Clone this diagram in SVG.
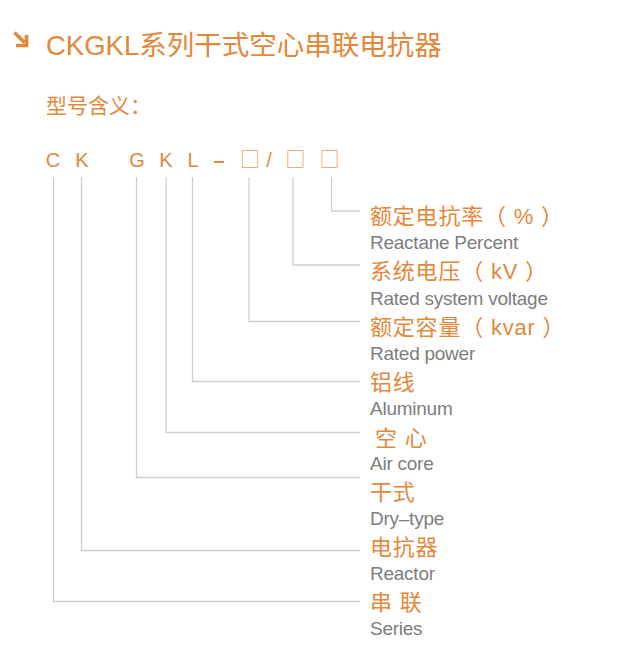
<svg xmlns="http://www.w3.org/2000/svg" width="633" height="668" viewBox="0 0 633 668">
<style>
.or{fill:#e2883b;font-family:"Liberation Sans","Noto Sans CJK SC",sans-serif}
.cn{font-size:22px;letter-spacing:0.8px}
.en{fill:#7d7d7d;font-family:"Liberation Sans",sans-serif;font-size:19px;letter-spacing:-0.25px}
.code{font-size:20px;text-anchor:middle}
.box{fill:#e8a064;font-family:"Noto Sans CJK SC",sans-serif;font-size:20px;text-anchor:middle}
.ln{fill:none;stroke:#cfcfcf;stroke-width:1.3}
</style>
<rect width="633" height="668" fill="#ffffff"/>
<g id="title">
<path d="M14.5,32.5 L24.5,42.5 M26.5,35 V45.5 H16" fill="none" stroke="#e2883b" stroke-width="3.6"/>
<text class="or" x="46" y="55" font-size="27.5">CKGKL系列干式空心串联电抗器</text>
</g>
<g id="subtitle"><text class="or" x="46" y="113" font-size="21">型号含义：</text></g>
<g id="code">
<text class="or code" x="53" y="167">C</text>
<text class="or code" x="82" y="167">K</text>
<text class="or code" x="137" y="167">G</text>
<text class="or code" x="166" y="167">K</text>
<text class="or code" x="193" y="167">L</text>
<text class="or code" x="219" y="167" font-weight="bold">–</text>
<text class="box" x="250" y="167">□</text>
<text class="or code" x="269" y="167">/</text>
<text class="box" x="295.5" y="167">□</text>
<text class="box" x="329.5" y="167">□</text>
</g>
<g id="connectors">
<path class="ln" d="M331.5,177 V211 H360"/>
<path class="ln" d="M293,177 V265 H360"/>
<path class="ln" d="M249,177 V321.5 H360"/>
<path class="ln" d="M192.5,177 V381.5 H360"/>
<path class="ln" d="M166,177 V432.5 H360"/>
<path class="ln" d="M136.5,177 V477.5 H360"/>
<path class="ln" d="M81.5,177 V550.5 H360"/>
<path class="ln" d="M53.5,177 V601.5 H360"/>
</g>
<g id="n-percent"><text class="or cn" x="370" y="224">额定电抗率（ % ）</text><text class="en" x="370" y="249">Reactane Percent</text></g>
<g id="n-kv"><text class="or cn" x="370" y="279">系统电压（ kV ）</text><text class="en" x="370" y="305">Rated system voltage</text></g>
<g id="n-kvar"><text class="or cn" x="370" y="335">额定容量（ kvar ）</text><text class="en" x="370" y="360">Rated power</text></g>
<g id="n-al"><text class="or cn" x="370" y="390">铝线</text><text class="en" x="370" y="415">Aluminum</text></g>
<g id="n-air"><text class="or cn" x="375" y="446">空 心</text><text class="en" x="370" y="470">Air core</text></g>
<g id="n-dry"><text class="or cn" x="370" y="500">干式</text><text class="en" x="370" y="525">Dry–type</text></g>
<g id="n-reactor"><text class="or cn" x="370" y="555">电抗器</text><text class="en" x="370" y="580">Reactor</text></g>
<g id="n-series"><text class="or cn" x="370" y="610">串 联</text><text class="en" x="370" y="635">Series</text></g>
</svg>
